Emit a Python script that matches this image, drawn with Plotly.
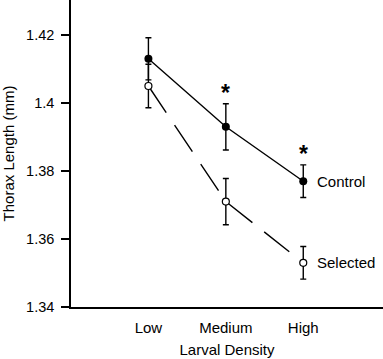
import plotly.graph_objects as go

categories = ["Low", "Medium", "High"]
control = [1.413, 1.393, 1.377]
control_err = [0.0062, 0.0068, 0.0048]
selected = [1.405, 1.371, 1.353]
selected_err = [0.0064, 0.0068, 0.0048]
y_ticks = [1.34, 1.36, 1.38, 1.40, 1.42]
y_ticktext = ["1.34", "1.36", "1.38", "1.4", "1.42"]
sig_categories = ["Medium", "High"]
sig_y = [1.4042, 1.3862]

fnt = "Liberation Sans, Arial, Helvetica, sans-serif"

fig = go.Figure()
fig.add_trace(go.Scatter(
    x=categories, y=selected, mode="lines+markers",
    line=dict(color="black", width=1.4, dash="32px,15px"),
    marker=dict(symbol="circle", size=7, color="white", line=dict(color="black", width=1.2)),
    error_y=dict(type="data", array=selected_err, color="black", thickness=1.4, width=3),
    showlegend=False))
fig.add_trace(go.Scatter(
    x=categories, y=control, mode="lines+markers",
    line=dict(color="black", width=1.4),
    marker=dict(symbol="circle", size=8, color="black"),
    error_y=dict(type="data", array=control_err, color="black", thickness=1.4, width=3),
    showlegend=False))

for c, y in zip(sig_categories, sig_y):
    fig.add_annotation(x=c, y=y, text="<b>*</b>", showarrow=False,
                       font=dict(family=fnt, size=23, color="black"),
                       xanchor="center", yanchor="middle", yshift=-4)

fig.add_annotation(x=categories[-1], y=control[-1], text="Control", showarrow=False,
                   xanchor="left", yanchor="middle", xshift=12,
                   font=dict(family=fnt, size=15, color="black"))
fig.add_annotation(x=categories[-1], y=selected[-1], text="Selected", showarrow=False,
                   xanchor="left", yanchor="middle", xshift=12,
                   font=dict(family=fnt, size=15, color="black"))

fig.update_layout(
    width=383, height=359,
    margin=dict(l=71, r=0, t=0, b=52),
    paper_bgcolor="white", plot_bgcolor="white",
    font=dict(family=fnt, size=15, color="black"),
)
fig.update_xaxes(type="category", categoryorder="array", categoryarray=categories,
                 range=[-1, 3.03], showline=True, linecolor="black", linewidth=1.5,
                 showgrid=False, zeroline=False, ticks="", ticklabelstandoff=6,
                 tickfont=dict(size=15), automargin=False,
                 title=dict(text="Larval Density", font=dict(size=15), standoff=10))
fig.update_yaxes(range=[1.34, 1.4303], tickvals=y_ticks, ticktext=y_ticktext,
                 showline=True, linecolor="black", linewidth=1.5, showgrid=False,
                 zeroline=False, ticks="outside", ticklen=8, tickwidth=1.5, tickcolor="black",
                 tickfont=dict(size=14.5), ticklabelstandoff=4, automargin=False,
                 title=dict(text="Thorax Length (mm)", font=dict(size=15), standoff=11))

fig.write_html("out.html", config={"displayModeBar": False},
               post_script="document.body.style.margin='0';")
